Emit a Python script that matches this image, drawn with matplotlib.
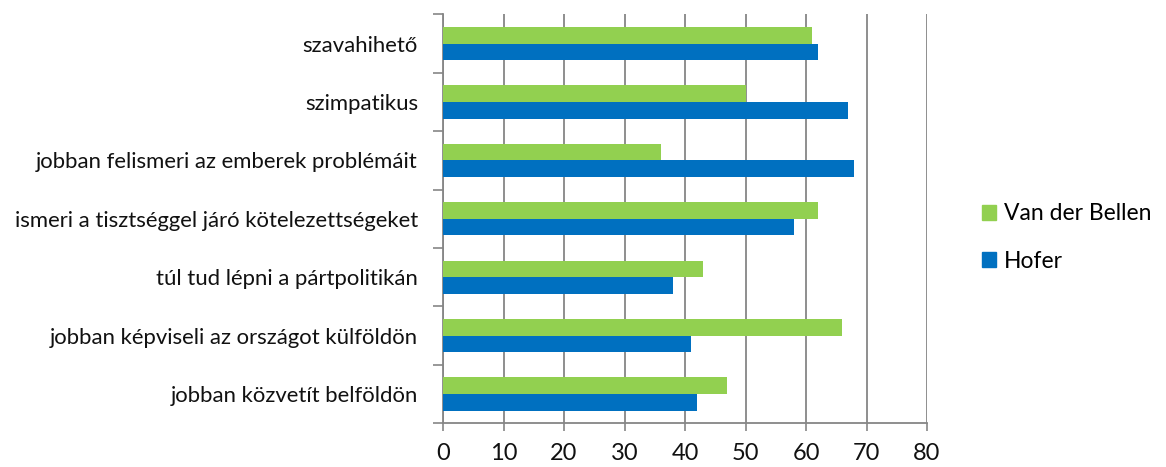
import matplotlib
matplotlib.use("Agg")
import matplotlib.pyplot as plt
import numpy as np
from matplotlib.patches import Patch

categories = [
    "szavahihető",
    "szimpatikus",
    "jobban felismeri az emberek problémáit",
    "ismeri a tisztséggel járó kötelezettségeket",
    "túl tud lépni a pártpolitikán",
    "jobban képviseli az országot külföldön",
    "jobban közvetít belföldön",
]
van_der_bellen = [61, 50, 36, 62, 43, 66, 47]
hofer = [62, 67, 68, 58, 38, 41, 42]
series_names = ["Van der Bellen", "Hofer"]
x_ticks = [0, 10, 20, 30, 40, 50, 60, 70, 80]

GREEN = "#92D050"
BLUE = "#0070C0"
GRID = "#868686"
FONT = "Lato"

fig = plt.figure(figsize=(11.66, 4.67), dpi=100)
ax = fig.add_axes([443 / 1166, 1 - 423.3 / 467, (927 - 443) / 1166, (423.3 - 14.3) / 467])

y = np.arange(len(categories))
h = 0.285
ax.barh(y - h / 2, van_der_bellen, height=h, color=GREEN, zorder=3, label=series_names[0])
ax.barh(y + h / 2, hofer, height=h, color=BLUE, zorder=3, label=series_names[1])

ax.set_xlim(0, 80)
ax.set_ylim(len(categories) - 0.5, -0.5)
ax.set_xticks(x_ticks)
ax.set_xticklabels([str(v) for v in x_ticks], fontsize=17, family=FONT, color="#111111")
ax.set_yticks(y)
ax.set_yticklabels(categories, fontsize=15.9, family=FONT, color="#111111")
ax.set_yticks(np.arange(-0.5, len(categories), 1.0), minor=True)
ax.tick_params(axis="y", which="major", length=0, pad=18)
ax.tick_params(axis="y", which="minor", length=7, color=GRID, width=1.2)
ax.tick_params(axis="x", which="major", length=6, color=GRID, width=1.2, pad=8)

ax.grid(axis="x", color=GRID, linewidth=1.3, zorder=0)
for s in ["top", "right"]:
    ax.spines[s].set_visible(False)
for s in ["left", "bottom"]:
    ax.spines[s].set_color(GRID)
    ax.spines[s].set_linewidth(1.3)

handles = [Patch(color=GREEN), Patch(color=BLUE)]
fig.legend(handles, series_names, loc="center left", bbox_to_anchor=(961 / 1166, 1 - 237.5 / 467),
           frameon=False, prop={"family": FONT, "size": 16.5}, handlelength=0.62, handleheight=0.62,
           handletextpad=0.35, labelspacing=1.15)

fig.savefig("out.png", dpi=100)
